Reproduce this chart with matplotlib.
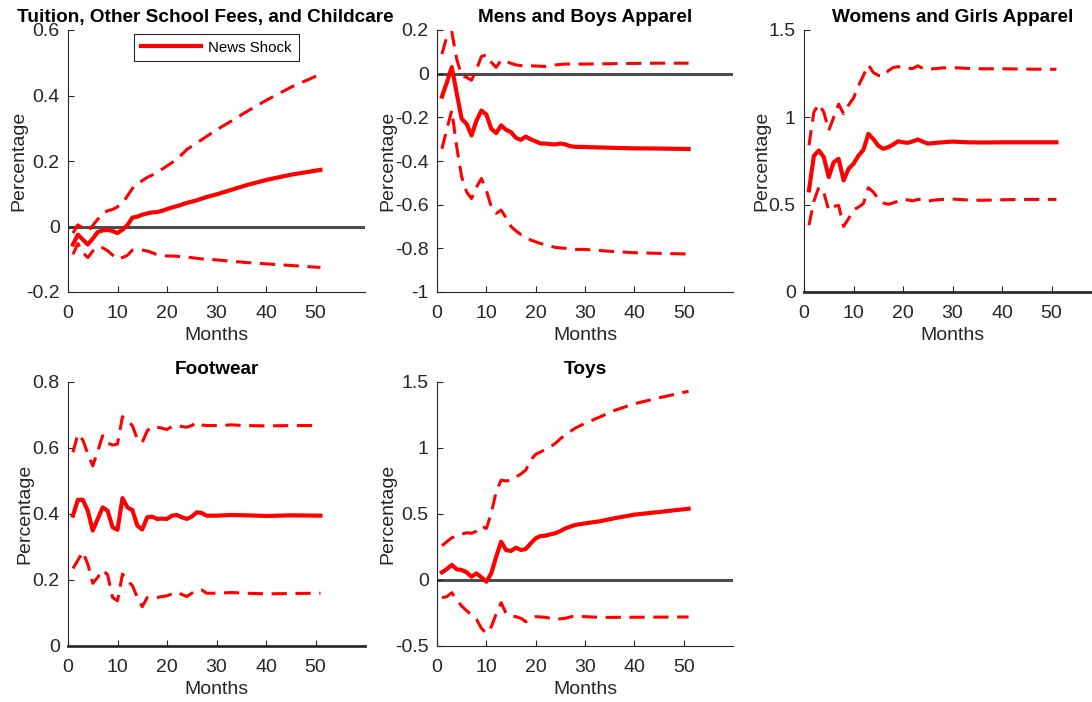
import matplotlib
matplotlib.use("Agg")
import matplotlib.pyplot as plt
from matplotlib.ticker import FuncFormatter

plt.rcParams['font.family'] = ['Liberation Sans', 'DejaVu Sans']
plt.rcParams['axes.unicode_minus'] = False

months = list(range(1, 29)) + [30, 33, 36, 40, 45, 51]

titles = ["Tuition, Other School Fees, and Childcare", "Mens and Boys Apparel",
          "Womens and Girls Apparel", "Footwear", "Toys"]

tuition_med = [-0.055, -0.025, -0.04, -0.055, -0.037, -0.017, -0.012, -0.01, -0.014, -0.02,
               -0.01, 0.004, 0.027, 0.03, 0.036, 0.04, 0.043, 0.044, 0.048, 0.053,
               0.058, 0.062, 0.067, 0.072, 0.076, 0.08, 0.085, 0.09,
               0.098, 0.112, 0.126, 0.142, 0.158, 0.173]
tuition_up = [-0.02, 0.005, -0.005, -0.015, 0.003, 0.022, 0.04, 0.048, 0.052, 0.06,
              0.072, 0.093, 0.116, 0.13, 0.14, 0.15, 0.157, 0.165, 0.175, 0.185,
              0.195, 0.205, 0.22, 0.235, 0.245, 0.255, 0.265, 0.275,
              0.295, 0.322, 0.35, 0.385, 0.425, 0.465]
tuition_lo = [-0.085, -0.052, -0.08, -0.095, -0.075, -0.062, -0.065, -0.074, -0.087, -0.1,
              -0.095, -0.088, -0.072, -0.07, -0.072, -0.075, -0.08, -0.086, -0.088, -0.09,
              -0.09, -0.091, -0.092, -0.093, -0.095, -0.097, -0.099, -0.1,
              -0.102, -0.106, -0.11, -0.114, -0.119, -0.125]

mens_med = [-0.105, -0.04, 0.03, -0.09, -0.207, -0.23, -0.283, -0.215, -0.169, -0.187,
            -0.253, -0.272, -0.237, -0.257, -0.268, -0.294, -0.303, -0.288, -0.301, -0.31,
            -0.32, -0.32, -0.323, -0.324, -0.32, -0.324, -0.332, -0.335,
            -0.336, -0.338, -0.34, -0.342, -0.343, -0.345]
mens_up = [0.09, 0.17, 0.19, 0.067, -0.01, -0.017, -0.03, 0.02, 0.078, 0.087,
           0.052, 0.029, 0.062, 0.056, 0.047, 0.04, 0.037, 0.037, 0.036, 0.035,
           0.034, 0.033, 0.036, 0.04, 0.042, 0.044, 0.044, 0.044,
           0.044, 0.045, 0.046, 0.047, 0.048, 0.048]
mens_lo = [-0.344, -0.253, -0.169, -0.336, -0.473, -0.542, -0.572, -0.52, -0.48, -0.534,
           -0.61, -0.64, -0.625, -0.66, -0.70, -0.72, -0.737, -0.747, -0.762, -0.77,
           -0.778, -0.785, -0.79, -0.796, -0.798, -0.80, -0.802, -0.805,
           -0.805, -0.81, -0.815, -0.82, -0.823, -0.826]

womens_med = [0.582, 0.78, 0.81, 0.772, 0.658, 0.743, 0.762, 0.639, 0.705, 0.734,
              0.78, 0.814, 0.905, 0.876, 0.838, 0.82, 0.829, 0.844, 0.863, 0.857,
              0.854, 0.863, 0.873, 0.861, 0.85, 0.852, 0.855, 0.857,
              0.861, 0.857, 0.856, 0.857, 0.857, 0.857]
womens_up = [0.84, 1.03, 1.076, 1.03, 0.925, 1.0, 1.076, 1.02, 1.07, 1.11,
             1.18, 1.24, 1.30, 1.257, 1.24, 1.235, 1.266, 1.285, 1.29, 1.285,
             1.28, 1.28, 1.295, 1.28, 1.272, 1.278, 1.28, 1.283,
             1.285, 1.28, 1.278, 1.278, 1.276, 1.275]
womens_lo = [0.382, 0.52, 0.6, 0.57, 0.468, 0.49, 0.496, 0.375, 0.42, 0.47,
             0.486, 0.506, 0.597, 0.572, 0.534, 0.51, 0.502, 0.51, 0.52, 0.53,
             0.527, 0.522, 0.53, 0.53, 0.52, 0.525, 0.528, 0.53,
             0.532, 0.527, 0.525, 0.528, 0.53, 0.53]

foot_med = [0.395, 0.443, 0.443, 0.41, 0.35, 0.385, 0.42, 0.41, 0.36, 0.352,
            0.448, 0.42, 0.412, 0.365, 0.353, 0.39, 0.392, 0.385, 0.386, 0.385,
            0.395, 0.397, 0.39, 0.385, 0.392, 0.405, 0.403, 0.395,
            0.395, 0.397, 0.396, 0.394, 0.396, 0.395]
foot_up = [0.587, 0.642, 0.624, 0.582, 0.546, 0.59, 0.637, 0.615, 0.609, 0.612,
           0.695, 0.683, 0.668, 0.627, 0.617, 0.652, 0.665, 0.663, 0.66, 0.656,
           0.665, 0.668, 0.665, 0.663, 0.668, 0.678, 0.67, 0.668,
           0.668, 0.67, 0.668, 0.667, 0.668, 0.668]
foot_lo = [0.235, 0.26, 0.285, 0.248, 0.19, 0.208, 0.23, 0.216, 0.147, 0.137,
           0.218, 0.198, 0.183, 0.147, 0.119, 0.147, 0.147, 0.147, 0.15, 0.152,
           0.158, 0.163, 0.156, 0.15, 0.16, 0.168, 0.17, 0.16,
           0.16, 0.162, 0.16, 0.158, 0.159, 0.16]

toys_med = [0.058, 0.083, 0.114, 0.081, 0.076, 0.058, 0.025, 0.05, 0.02, -0.013,
            0.05, 0.177, 0.29, 0.227, 0.22, 0.245, 0.227, 0.235, 0.278, 0.316,
            0.333, 0.336, 0.346, 0.354, 0.371, 0.391, 0.404, 0.417,
            0.429, 0.445, 0.468, 0.495, 0.515, 0.54]
toys_up = [0.26, 0.29, 0.32, 0.333, 0.348, 0.358, 0.354, 0.37, 0.41, 0.39,
           0.505, 0.67, 0.757, 0.75, 0.757, 0.78, 0.803, 0.833, 0.91, 0.952,
           0.97, 0.99, 1.01, 1.035, 1.07, 1.1, 1.125, 1.15,
           1.187, 1.235, 1.285, 1.335, 1.38, 1.43]
toys_lo = [-0.134, -0.126, -0.096, -0.15, -0.197, -0.232, -0.265, -0.298, -0.366, -0.404,
           -0.354, -0.258, -0.172, -0.253, -0.273, -0.278, -0.29, -0.316, -0.298, -0.278,
           -0.28, -0.283, -0.29, -0.298, -0.294, -0.29, -0.28, -0.273,
           -0.278, -0.283, -0.283, -0.282, -0.281, -0.28]

medians = [tuition_med, mens_med, womens_med, foot_med, toys_med]
uppers = [tuition_up, mens_up, womens_up, foot_up, toys_up]
lowers = [tuition_lo, mens_lo, womens_lo, foot_lo, toys_lo]

ylims = [(-0.2, 0.6), (-1, 0.2), (0, 1.5), (0, 0.8), (-0.5, 1.5)]
yticks = [[-0.2, 0, 0.2, 0.4, 0.6], [-1, -0.8, -0.6, -0.4, -0.2, 0, 0.2],
          [0, 0.5, 1, 1.5], [0, 0.2, 0.4, 0.6, 0.8], [-0.5, 0, 0.5, 1, 1.5]]
xticks = [0, 10, 20, 30, 40, 50]

W, H = 1092, 702
fig = plt.figure(figsize=(W / 100, H / 100), dpi=100)

boxes = [(68, 30, 297, 262), (437, 30, 296, 262), (804, 30, 297, 262),
         (68, 382, 297, 264), (437, 382, 296, 264)]

axcol = (0.15, 0.15, 0.15)
fs = 14

for i, (l, t, w, h) in enumerate(boxes):
    ax = fig.add_axes([l / W, (H - t - h) / H, w / W, h / H])
    ax.axhline(0, color=(0.3, 0.3, 0.3), lw=2.2, zorder=1,
               clip_on=False if ylims[i][0] == 0 else True)
    ax.plot(months, uppers[i], color='red', lw=2.2, dashes=(5, 2.8), zorder=2)
    ax.plot(months, lowers[i], color='red', lw=2.2, dashes=(5, 2.8), zorder=2)
    line, = ax.plot(months, medians[i], color='red', lw=3.0, zorder=3, label='News Shock')
    ax.set_xlim(0, 60)
    ax.set_ylim(*ylims[i])
    ax.set_xticks(xticks)
    ax.set_yticks(yticks[i])
    ax.yaxis.set_major_formatter(FuncFormatter(lambda v, p: f"{v:g}"))
    for s in ['top', 'right']:
        ax.spines[s].set_visible(False)
    for s in ['left', 'bottom']:
        ax.spines[s].set_color(axcol)
        ax.spines[s].set_linewidth(0.8)
    ax.tick_params(direction='in', length=4, width=0.8, colors=axcol,
                   labelsize=fs, labelcolor=axcol)
    ax.tick_params(axis='x', pad=9)
    ax.tick_params(axis='y', pad=6)
    ax.set_xlabel('Months', fontsize=fs, color=axcol, labelpad=4)
    ax.set_ylabel('Percentage', fontsize=fs, color=axcol, labelpad=-1)
    title_x = 0.461 if i == 0 else 0.5
    ax.set_title(titles[i], fontsize=13.7, fontweight='bold', pad=6, x=title_x)
    if i == 0:
        leg = ax.legend(handles=[line], loc='upper center', bbox_to_anchor=(0.5, 0.985),
                        fontsize=10.8, frameon=True, fancybox=False, framealpha=1,
                        edgecolor=axcol, handlelength=4.0, borderpad=0.45,
                        handletextpad=0.5, borderaxespad=0)
        leg.get_frame().set_linewidth(0.8)

fig.savefig('out.png', dpi=100)
